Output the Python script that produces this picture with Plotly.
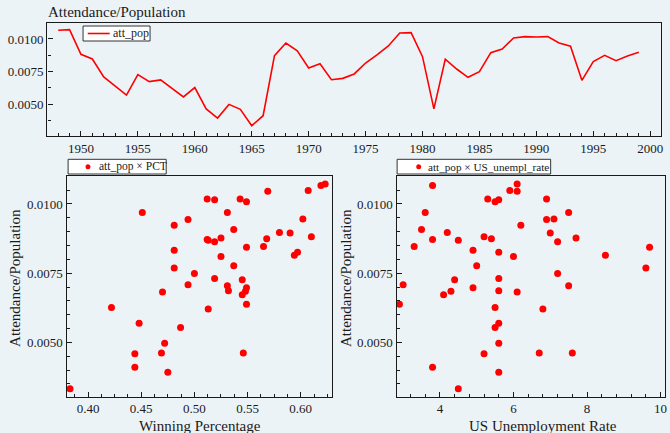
import plotly.graph_objects as go

years = list(range(1948, 2000))
att_pop = [0.01067, 0.01072, 0.00882, 0.00846, 0.00708, 0.00638, 0.00569, 0.00726, 0.00672, 0.00685,
           0.00621, 0.00554, 0.00626, 0.00462, 0.00392, 0.00497, 0.00459, 0.00333, 0.00410, 0.00872,
           0.00969, 0.00908, 0.00777, 0.00810, 0.00687, 0.00697, 0.00731, 0.00815, 0.00877, 0.00946,
           0.01046, 0.01049, 0.00864, 0.00462, 0.00844, 0.00769, 0.00705, 0.00749, 0.00895, 0.00923,
           0.01008, 0.01018, 0.01015, 0.01018, 0.00969, 0.00944, 0.00682, 0.00826, 0.00874, 0.00833,
           0.00869, 0.00897]
pct = [0.619, 0.623, 0.610, 0.565, 0.494, 0.549, 0.448, 0.545, 0.545, 0.548,
       0.513, 0.487, 0.422, 0.469, 0.475, 0.472, 0.444, 0.383, 0.444, 0.512,
       0.531, 0.537, 0.537, 0.525, 0.532, 0.549, 0.519, 0.594, 0.525, 0.602,
       0.569, 0.607, 0.519, 0.546, 0.549, 0.481, 0.531, 0.500, 0.590, 0.481,
       0.549, 0.512, 0.519, 0.543, 0.451, 0.494, 0.470, 0.597, 0.568, 0.481,
       0.513, 0.580]
us_unempl_rate = [3.8, 6.1, 5.2, 3.3, 3.0, 2.9, 5.6, 4.4, 4.1, 4.3,
                  6.8, 5.5, 5.5, 6.7, 5.6, 5.6, 5.2, 4.5, 3.8, 3.8,
                  3.6, 3.5, 5.0, 6.0, 5.6, 4.9, 5.6, 8.5, 7.7, 7.1,
                  6.1, 5.9, 7.2, 7.6, 9.7, 9.6, 7.5, 7.2, 7.0, 6.2,
                  5.5, 5.3, 5.6, 6.9, 7.5, 6.9, 6.1, 5.6, 5.4, 4.9,
                  4.5, 4.2]

series_names = ["att_pop", "att_pop × PCT", "att_pop × US_unempl_rate"]

W, H = 670, 433
BG = "#ECF3F7"
FONT = "Liberation Serif"
INK = "#1a1a1a"
RED = "#ff0000"


def px_x(p):
    return p / W


def px_y(p):
    return 1 - p / H


fig = go.Figure()
fig.add_trace(go.Scatter(x=years, y=att_pop, mode="lines", name=series_names[0],
                         line=dict(color=RED, width=1.6),
                         xaxis="x", yaxis="y"))
fig.add_trace(go.Scatter(x=pct, y=att_pop, mode="markers", name=series_names[1],
                         marker=dict(color=RED, size=7, line=dict(width=0)),
                         xaxis="x2", yaxis="y2"))
fig.add_trace(go.Scatter(x=us_unempl_rate, y=att_pop, mode="markers", name=series_names[2],
                         marker=dict(color=RED, size=7, line=dict(width=0)),
                         xaxis="x3", yaxis="y3"))

axis_common = dict(showline=True, mirror=True, linecolor=INK, linewidth=1.3,
                   showgrid=False, zeroline=False, ticks="inside", ticklen=5,
                   tickwidth=1, tickcolor=INK,
                   tickfont=dict(family=FONT, size=13, color=INK))

shapes = []
annotations = []


def legend_box(x0, x1, y0, y1):
    shapes.append(dict(type="rect", xref="paper", yref="paper",
                       x0=px_x(x0), x1=px_x(x1), y0=px_y(y1), y1=px_y(y0),
                       fillcolor="white", line=dict(color="#333", width=1), layer="above"))


def legend_text(x, y, text, size):
    annotations.append(dict(text=text, xref="paper", yref="paper", x=px_x(x), y=px_y(y),
                            xanchor="left", yanchor="middle", showarrow=False,
                            font=dict(family=FONT, size=size, color=INK)))


# top legend (line sample)
legend_box(83.3, 150.5, 26, 41)
shapes.append(dict(type="line", xref="paper", yref="paper",
                   x0=px_x(88), x1=px_x(110), y0=px_y(33.5), y1=px_y(33.5),
                   line=dict(color=RED, width=1.6), layer="above"))
legend_text(111.5, 33.5, series_names[0], 12)

# bottom-left legend (marker sample)
legend_box(68.3, 166.7, 159.3, 174)
shapes.append(dict(type="circle", xref="paper", yref="paper",
                   x0=px_x(85.8), x1=px_x(90.8), y0=px_y(169.2), y1=px_y(164.2),
                   fillcolor=RED, line=dict(width=0), layer="above"))
legend_text(97, 166.7, series_names[1], 11.5)

# bottom-right legend (marker sample)
legend_box(398.3, 552.3, 159.3, 174)
shapes.append(dict(type="circle", xref="paper", yref="paper",
                   x0=px_x(417.5), x1=px_x(422.5), y0=px_y(169.2), y1=px_y(164.2),
                   fillcolor=RED, line=dict(width=0), layer="above"))
legend_text(427, 166.7, series_names[2], 11.2)

annotations += [
    dict(text="Attendance/Population", xref="paper", yref="paper",
         x=px_x(46), y=px_y(12.5), xanchor="left", yanchor="middle",
         showarrow=False, font=dict(family=FONT, size=15, color=INK)),
    dict(text="Winning Percentage", xref="paper", yref="paper",
         x=px_x(201), y=px_y(426), xanchor="center", yanchor="middle",
         showarrow=False, font=dict(family=FONT, size=15, color=INK)),
    dict(text="US Unemployment Rate", xref="paper", yref="paper",
         x=px_x(545), y=px_y(426), xanchor="center", yanchor="middle",
         showarrow=False, font=dict(family=FONT, size=15, color=INK)),
    dict(text="Attendance/Population", xref="paper", yref="paper",
         x=px_x(15), y=px_y(278), xanchor="center", yanchor="middle",
         textangle=-90, showarrow=False, font=dict(family=FONT, size=15, color=INK)),
    dict(text="Attendance/Population", xref="paper", yref="paper",
         x=px_x(347), y=px_y(278), xanchor="center", yanchor="middle",
         textangle=-90, showarrow=False, font=dict(family=FONT, size=15, color=INK)),
]

fig.update_layout(
    width=W, height=H,
    showlegend=False,
    margin=dict(l=0, r=0, t=0, b=0),
    paper_bgcolor=BG, plot_bgcolor=BG,
    font=dict(family=FONT, color=INK),
    xaxis=dict(domain=[px_x(47.5), px_x(663)], range=[1947.05, 2000.95],
               tick0=1950, dtick=5, anchor="y",
               minor=dict(dtick=1, ticks="inside", ticklen=3, tickcolor=INK),
               **axis_common),
    yaxis=dict(domain=[px_y(136), px_y(22.7)], range=[0.00254, 0.01125],
               tick0=0, dtick=0.0025, tickformat=".4f", anchor="x",
               minor=dict(dtick=0.00125, ticks="inside", ticklen=3, tickcolor=INK),
               **axis_common),
    xaxis2=dict(domain=[px_x(66.7), px_x(333.3)], range=[0.3797, 0.6297],
                tick0=0, dtick=0.05, tickformat=".2f", anchor="y2",
                minor=dict(dtick=0.0125, ticks="inside", ticklen=3, tickcolor=INK),
                **axis_common),
    yaxis2=dict(domain=[px_y(396.7), px_y(176)], range=[0.00304, 0.01101],
                tick0=0, dtick=0.0025, tickformat=".4f", anchor="x2",
                minor=dict(dtick=0.0005, ticks="inside", ticklen=3, tickcolor=INK),
                **axis_common),
    xaxis3=dict(domain=[px_x(397.7), px_x(667)], range=[2.82, 10.12],
                tick0=0, dtick=2, anchor="y3",
                minor=dict(dtick=0.4, ticks="inside", ticklen=3, tickcolor=INK),
                **axis_common),
    yaxis3=dict(domain=[px_y(396.7), px_y(176)], range=[0.00304, 0.01101],
                tick0=0, dtick=0.0025, tickformat=".4f", anchor="x3",
                minor=dict(dtick=0.0005, ticks="inside", ticklen=3, tickcolor=INK),
                **axis_common),
    shapes=shapes,
    annotations=annotations,
)

fig.write_html("out.html")
